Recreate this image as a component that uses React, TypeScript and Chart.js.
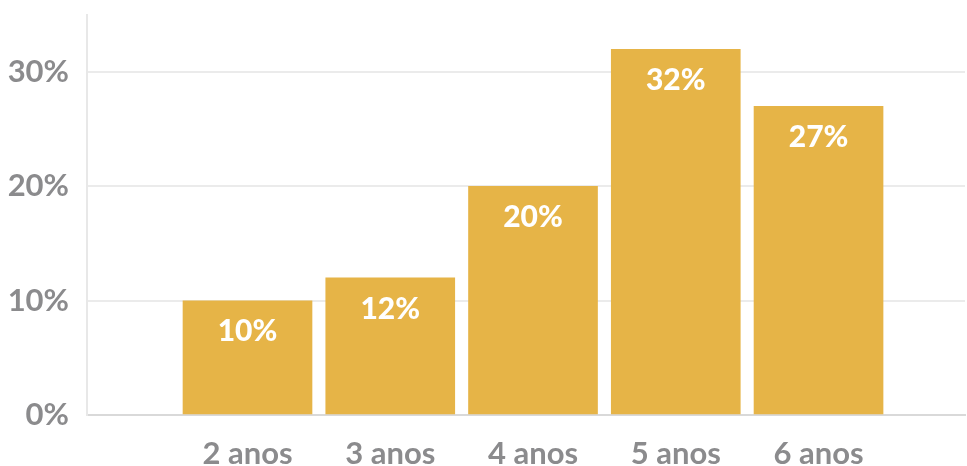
import React, { useEffect, useRef } from "react";
import { Chart, registerables } from "chart.js";

Chart.register(...registerables);

const categories = ["2 anos", "3 anos", "4 anos", "5 anos", "6 anos"];
const values = [10, 12, 20, 32, 27];
const yTicks = [0, 10, 20, 30];

const BAR_COLOR = "#E6B447";
const TICK_COLOR = "#8b8b8d";

const labelPlugin = {
  id: "barLabels",
  afterDatasetsDraw(chart: any) {
    const ctx = chart.ctx;
    const meta = chart.getDatasetMeta(0);
    ctx.save();
    ctx.fillStyle = "#ffffff";
    ctx.font = "900 30px Lato";
    ctx.textAlign = "center";
    ctx.textBaseline = "middle";
    meta.data.forEach((bar: any, i: number) => {
      ctx.fillText(values[i] + "%", bar.x, bar.y + 31);
    });
    ctx.restore();
  },
};

export default function App() {
  const ref = useRef<HTMLCanvasElement | null>(null);
  useEffect(() => {
    document.body.style.margin = "0";
    const chart = new Chart(ref.current as HTMLCanvasElement, {
      type: "bar",
      data: {
        datasets: [
          {
            data: values.map((v, i) => ({ x: i, y: v })),
            backgroundColor: BAR_COLOR,
            barThickness: 129,
            borderWidth: 0,
          },
        ],
      },
      options: {
        animation: false,
        responsive: false,
        layout: { padding: { top: 15, right: 2, left: 0, bottom: 0 } },
        plugins: { legend: { display: false }, tooltip: { enabled: false } },
        scales: {
          x: {
            type: "linear",
            min: -1.1243,
            max: 5.026,
            offset: false,
            bounds: "data",
            grid: { display: false, drawTicks: false, offset: false },
            border: { display: true, color: "#d9d9d9", width: 2 },
            afterBuildTicks: (scale: any) => {
              scale.ticks = categories.map((_, i) => ({ value: i }));
            },
            afterFit: (scale: any) => {
              scale.height = 51;
              scale.paddingLeft = 0;
              scale.paddingRight = 0;
            },
            ticks: {
              autoSkip: false,
              maxRotation: 0,
              padding: 20,
              color: TICK_COLOR,
              font: { family: "Lato", size: 31, weight: "bold" },
              callback: (v: any) => categories[v as number] ?? "",
            },
          },
          y: {
            min: 0,
            max: 35,
            afterBuildTicks: (scale: any) => {
              scale.ticks = yTicks.map((v) => ({ value: v }));
            },
            afterFit: (scale: any) => {
              scale.width = 87;
              scale.paddingTop = 0;
              scale.paddingBottom = 0;
            },
            grid: { color: "#ebebeb", lineWidth: 2, drawTicks: false },
            border: { display: true, color: "#e8e8e8", width: 2 },
            ticks: {
              padding: 18,
              color: TICK_COLOR,
              font: { family: "Lato", size: 31, weight: "bold" },
              callback: (v: any) => v + "%",
            },
          },
        },
      },
      plugins: [labelPlugin],
    } as any);
    return () => chart.destroy();
  }, []);
  return <canvas ref={ref} width={967} height={466} style={{ display: "block" }} />;
}
